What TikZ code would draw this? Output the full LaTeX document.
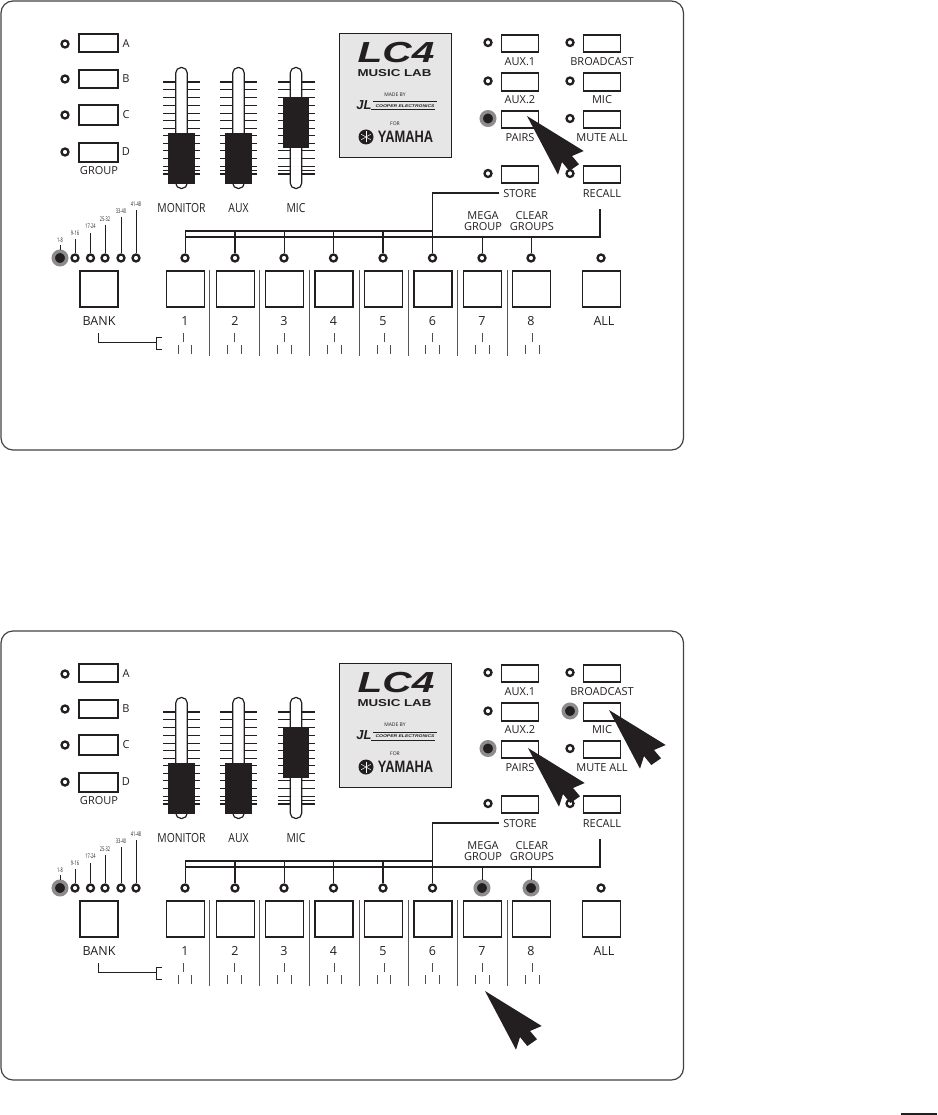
\documentclass[tikz,border=0pt]{standalone}
\usepackage{fontspec}
\usetikzlibrary{calc}
\setmainfont{Open Sans}
\newfontfamily\logofont{Liberation Sans}
\definecolor{ink}{HTML}{231F20}
\definecolor{halo}{HTML}{8C8C8C}
\definecolor{logogray}{HTML}{E6E6E6}

\begin{document}
\begin{tikzpicture}[
    x = 1pt, y = -1pt,
    ink, line cap = butt,
    button/.style = {rectangle, draw = ink, line width = 1.9pt, fill = white,
      inner sep = 0pt, minimum width = 37pt, minimum height = 17.5pt},
    padbutton/.style = {button, minimum width = 38pt, minimum height = 36.5pt},
    ledoff/.style = {circle, draw = ink, line width = 2.3pt, fill = white,
      inner sep = 0pt, minimum size = 7pt},
    ledon/.style = {circle, draw = halo, line width = 3.5pt, fill = ink,
      inner sep = 0pt, minimum size = 13.5pt},
    caption/.style = {inner sep = 0pt, text = ink, font = \fontsize{11}{10.5}\selectfont, align = center},
    number/.style = {caption, font = \fontsize{12.5}{13}\selectfont},
    tinylabel/.style = {inner sep = 0pt, text = ink, font = \fontsize{5}{6}\selectfont},
    rangelabel/.style = {inner sep = 0pt, text = ink, font = \fontsize{6.4}{7}\selectfont},
    bus/.style = {draw = ink, line width = 1.5pt},
    leader/.style = {draw = ink, line width = 0.8pt},
    tickmark/.style = {draw = ink!80, line width = 0.6pt},
    divider/.style = {draw = ink!75, line width = 0.7pt},
    slot/.style = {draw = ink, line width = 1.2pt, fill = white, rounded corners = 5.5pt},
    knob/.style = {fill = ink},
    cursorshape/.pic = {
      \fill [ink] (0, 0) -- (56.7, 35) -- (45, 40) -- (52, 48.3) -- (42.3, 55)
        -- (35, 46) -- (31, 58.7) -- cycle;
    }
  ]
  \useasboundingbox (0, 0) rectangle (937, 1115);

  \foreach \p/\dy/\micstyle/\padstyle in {t/0/ledoff/ledoff, u/630/ledon/ledon} {
    \begin{scope}[shift = {(0, \dy)}]
      \draw [line width = 1.2pt, ink!85, rounded corners = 12pt] (1, 1) rectangle (683.5, 450);

      % group buttons
      \foreach \n/\ly/\cy/\h in {A/44/43/18, B/79/79/18, C/115/115/20, D/152/152.5/19} {
        \node at (65, \ly) [ledoff, name = \p led\n] {};
        \node at (98.5, \cy) [button, minimum width = 38.5pt, minimum height = \h pt, name = \p grp\n] {};
        \node at (126, \ly) [caption, name = \p txt\n] {\n};
      }
      \node at (99, 171) [caption, name = \p group] {GROUP};

      % faders
      \foreach \f/\x/\cap/\lab/\sx in {mon/181.5/133/MONITOR/0.83, aux/238.5/133/AUX/0.83, mic/296/97/MIC/0.83} {
        \foreach \ty in {89, 97, 105, 113, 120, 128, 135, 143, 150, 158, 166, 170} {
          \draw [ink, line width = 0.6pt] (\x - 18.5, \ty) -- (\x + 18.5, \ty);
        }
        \draw [ink, line width = 1.2pt] (\x - 18.5, 82) -- (\x + 18.5, 82);
        \draw [ink, line width = 1.2pt] (\x - 18.5, 174) -- (\x + 18.5, 174);
        \draw [slot] (\x - 5.8, 67.5) rectangle (\x + 5.8, 188.5);
        \fill [knob] (\x - 13.2, \cap) rectangle (\x + 13.2, \cap + 51);
        \node at (\x, 208) [caption, font = \fontsize{12.5}{13}\selectfont, name = \p lab\f] {\scalebox{\sx}[1]{\lab}};
      }

      % logo plate
      \node at (395, 95) [rectangle, draw = ink, line width = 0.7pt, fill = logogray,
        inner sep = 0pt, minimum width = 112pt, minimum height = 124pt, name = \p logo] {};
      \node at (396, 53) [inner sep = 0pt, name = \p lcfour] {\logofont\fontsize{29}{29}\selectfont\bfseries\itshape\scalebox{1.4}[1]{LC4}};
      \node at (394.5, 73) [inner sep = 0pt, name = \p music] {\logofont\fontsize{10}{10}\selectfont\bfseries\scalebox{1.33}[1]{MUSIC LAB}};
      \node at (395, 95) [tinylabel, name = \p made] {MADE BY};
      \node at (364, 105.5) [inner sep = 0pt, name = \p jlc] {\logofont\fontsize{13}{13}\selectfont\bfseries\itshape JL};
      \node at (405, 106) [inner sep = 0pt, name = \p cooper] {\logofont\fontsize{4}{4}\selectfont\bfseries\itshape\scalebox{1.25}[1]{COOPER ELECTRONICS}};
      \draw [ink, line width = 1pt] (373, 102) -- (437, 102);
      \draw [ink, line width = 1pt] (371, 110) -- (435, 110);
      \node at (395, 124) [tinylabel, name = \p for] {FOR};
      \node at (366, 137) [circle, fill = ink, inner sep = 0pt, minimum size = 15pt, name = \p emblem] {};
      \foreach \a in {30, 90, 150} {
        \draw [white, line width = 0.5pt] ($(\p emblem)+(\a:5.5)$) -- ($(\p emblem)+(\a+180:5.5)$);
      }
      \node at (405.5, 137) [inner sep = 0pt, name = \p yamaha] {\logofont\fontsize{16.5}{16.5}\selectfont\bfseries\scalebox{0.78}[1]{YAMAHA}};

      % function buttons
      \foreach \n/\x/\y/\st/\lab/\ly in {
          aone/520/43.5/ledoff/AUX.1/61.7, atwo/520/82/ledoff/AUX.2/99.7,
          pairs/520/119.5/ledon/PAIRS/137.7, store/520/174.5/ledoff/STORE/193.7,
          broad/602/43.5/ledoff/BROADCAST/61.7, micb/602/82/\micstyle/MIC/99.7,
          mute/602/119.5/ledoff/MUTE ALL/137.7, recall/602/174.5/ledoff/RECALL/193.7} {
        \node at (\x - 32, \y - 1) [\st, name = \p led\n] {};
        \node at (\x, \y) [button, name = \p btn\n] {};
        \node at (\x, \ly) [caption, name = \p lab\n] {\lab};
      }

      % bank
      \foreach \n/\x/\top/\lab/\ty in {b/75/239/9-16/233, c/90.5/233/17-24/226,
          d/105/225/25-32/219, e/121/217/33-40/211, f/136/210/41-48/204} {
        \node at (\x, 258) [ledoff, name = \p bank\n] {};
        \coordinate (\p top\n) at (\x, \top);
        \draw [leader] (\p top\n) -- (\p bank\n);
        \node at (\x, \ty) [rangelabel, name = \p rng\n] {\scalebox{0.62}[1]{\lab}};
      }
      \node at (60, 258) [ledon, name = \p banka] {};
      \coordinate (\p topa) at (60, 245);
      \draw [leader] (\p topa) -- (\p banka);
      \node at (60, 240) [rangelabel, name = \p rnga] {\scalebox{0.62}[1]{1-8}};
      \node at (99, 289) [padbutton, name = \p padbank] {};
      \node at (99, 321) [number, name = \p labbank] {BANK};

      % channels
      \foreach \n/\x/\st/\tx/\aa/\bb in {
          1/185/ledoff/183.5/178/191, 2/235/ledoff/234/227/241,
          3/284/ledoff/284.5/277/291, 4/333.5/ledoff/334/327/341,
          5/383/ledoff/384/377/390, 6/432.5/ledoff/432.5/425/439,
          7/482/\padstyle/482.5/475/489, 8/531/\padstyle/532.5/525/539} {
        \node at (\x, 258) [\st, name = \p led\n] {};
        \node at (\x + 0.5, 289) [padbutton, name = \p pad\n] {};
        \node at (\x, 321) [number, name = \p num\n] {\n};
        \draw [tickmark] (\tx, 333) -- (\tx, 342);
        \draw [tickmark] (\aa, 345) -- (\aa, 354);
        \draw [tickmark] (\bb, 345) -- (\bb, 354);
      }
      \node at (601, 258) [ledoff, name = \p ledall] {};
      \node at (601.5, 289) [padbutton, name = \p padall] {};
      \node at (604, 321) [number, name = \p laball] {ALL};
      \foreach \x in {209, 259, 309, 359, 408, 457, 507} {
        \draw [divider] (\x, 270) -- (\x, 356);
      }

      % bus lines
      \node at (483, 221) [caption, name = \p mega] {MEGA\\GROUP};
      \node at (532, 221) [caption, name = \p clear] {CLEAR\\GROUPS};
      \coordinate (\p busa) at (185, 231);
      \coordinate (\p busb) at (185, 237);
      \coordinate (\p recallend) at (600, 209);
      \coordinate (\p storeend) at (499, 193);
      \draw [bus] (\p storeend) -| (\p led6);
      \draw [bus] (\p busa) -- (433, 231);
      \draw [bus] (\p busb) -| (\p recallend);
      \draw [leader] (\p busa) -- (\p led1);
      \draw [bus] (235, 231) -- (\p led2);
      \draw [leader] (284, 231) -- (\p led3);
      \draw [leader] (333.5, 231) -- (\p led4);
      \draw [bus] (383, 231) -- (\p led5);
      \draw [leader] (482, 237) -- (\p led7);
      \draw [leader] (531, 237) -- (\p led8);

      % bank bracket
      \coordinate (\p brk) at (98, 333);
      \coordinate (\p brkup) at (162, 337);
      \coordinate (\p brkdn) at (162, 349);
      \draw [leader] (\p brk) |- (156, 342);
      \draw [leader] (\p brkup) -| (156, 349) -- (\p brkdn);
    \end{scope}
  }

  \pic at (527, 116) {cursorshape};
  \pic at (528, 748) {cursorshape};
  \pic at (609, 710) {cursorshape};
  \pic at (485, 991) {cursorshape};

  \fill [ink] (901, 1113) rectangle (937, 1115);
\end{tikzpicture}
\end{document}
